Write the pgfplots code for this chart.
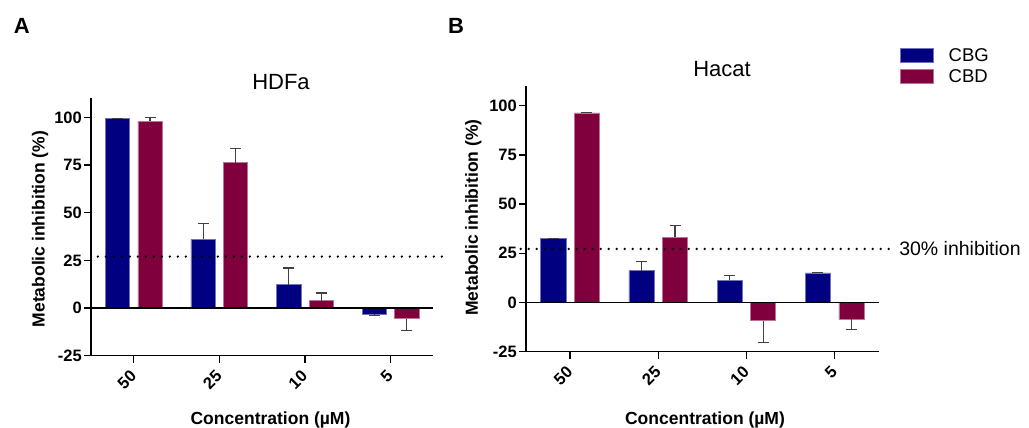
\documentclass[border=0pt]{standalone}
\usepackage{fontspec}
\setmainfont{Liberation Sans}
\usepackage{pgfplots}
\pgfplotsset{compat=1.18}
\definecolor{cbg}{RGB}{0,0,128}
\definecolor{cbd}{RGB}{128,0,62}
\newcommand{\tickfont}{\fontsize{16.5}{19}\selectfont\bfseries}
\newcommand{\labfont}{\fontsize{17.5}{20}\selectfont\bfseries}
\newcommand{\titfont}{\fontsize{22}{26}\selectfont}
\pgfplotsset{
  panel/.style={
    anchor=south west, scale only axis,
    xmin=-0.5, xmax=3.5, ymin=-25, ymax=110,
    axis x line*=bottom, axis y line*=left,
    axis line style={line width=1.3pt, black, -},
    xtick={0,1,2,3}, xticklabels={50,25,10,5},
    ytick={-25,0,25,50,75,100}, yticklabels={-25,0,25,50,75,100},
    tick align=outside, major tick length=7pt,
    tick style={line width=1.3pt, black},
    xticklabel style={rotate=45, anchor=east, font=\tickfont, inner sep=1pt, xshift=-6.5pt, yshift=-7pt},
    yticklabel style={font=\tickfont, inner sep=2pt},
    clip=false,
    error bars/y dir=plus, error bars/y explicit,
    error bars/error mark options={rotate=90, mark size=5.5pt, line width=1.2pt, black!75},
    error bars/error bar style={line width=1.2pt, black!75},
  },
  barA/.style={ybar, bar width=0.285, bar shift=0pt, fill=cbg, draw=cbg!55!white, line width=0.7pt},
  barB/.style={ybar, bar width=0.285, bar shift=0pt, fill=cbd, draw=cbd!55!white, line width=0.7pt},
}
\begin{document}
\begin{tikzpicture}[x=1pt,y=1pt]
\path[use as bounding box] (0,0) rectangle (1029,428);
% Panel A
\begin{axis}[panel, at={(91pt,72.3pt)}, width=342.3pt, height=257.4pt]
\addplot[barA] coordinates {(-0.19,99.3) += (0,0.3) (0.81,36.0) += (0,8.2) (1.81,12.2) += (0,8.8) (2.81,-3.1) += (0,-0.9)};
\addplot[barB] coordinates {(0.19,97.9) += (0,1.9) (1.19,76.2) += (0,7.5) (2.19,3.8) += (0,4.1) (3.19,-5.6) += (0,-6.1)};
\addplot[black, line width=1.3pt] coordinates {(-0.5,0) (3.5,0)};
\addplot[black, line width=2.6pt, dash pattern=on 0pt off 8pt, line cap=round] coordinates {(-0.42,27.0) (3.65,27.0)};
\end{axis}
% Panel B
\begin{axis}[panel, at={(526pt,76.3pt)}, width=352.8pt, height=265.7pt,
  legend style={draw=none, fill=none, at={(1.06,1.142)}, anchor=north west, inner sep=0pt, outer sep=0pt,
    font=\fontsize{18.5}{21}\selectfont, row sep=6pt, nodes={inner sep=0pt, anchor=west}},
  legend cell align=left,
  legend image code/.code={\fill[#1] (0pt,-7pt) rectangle (33pt,7pt);},
]
\addplot[barA] coordinates {(-0.19,32.4) += (0,0.3) (0.81,16.1) += (0,4.8) (1.81,11.2) += (0,2.7) (2.81,15.0) += (0,0.3)};
\addlegendentry{\hspace{15pt}CBG}
\addplot[barB] coordinates {(0.19,96.3) += (0,0.3) (1.19,33.1) += (0,6.1) (2.19,-9.2) += (0,-11.0) (3.19,-8.5) += (0,-5.3)};
\addlegendentry{\hspace{15pt}CBD}
\addplot[black, line width=1.3pt, forget plot] coordinates {(-0.5,0) (3.5,0)};
\addplot[black, line width=2.6pt, dash pattern=on 0pt off 8pt, line cap=round, forget plot] coordinates {(-0.56,27.2) (3.62,27.2)};
\node[anchor=west, inner sep=0pt, font=\fontsize{19.5}{22}\selectfont] at (axis cs:3.73,27.3) {30\% inhibition};
\end{axis}
% titles and labels
\node[font=\titfont] at (281,346) {HDFa};
\node[font=\titfont] at (722,358.5) {Hacat};
\node[font=\labfont, rotate=90] at (40,199) {Metabolic inhibition (\%)};
\node[font=\labfont, rotate=90] at (473.3,210.5) {Metabolic inhibition (\%)};
\node[font=\labfont] at (270.5,8) {Concentration (µM)};
\node[font=\labfont] at (705,8.5) {Concentration (µM)};
\node[font=\fontsize{22}{26}\selectfont\bfseries] at (21.7,402) {A};
\node[font=\fontsize{22}{26}\selectfont\bfseries] at (456,402) {B};
\end{tikzpicture}
\end{document}
